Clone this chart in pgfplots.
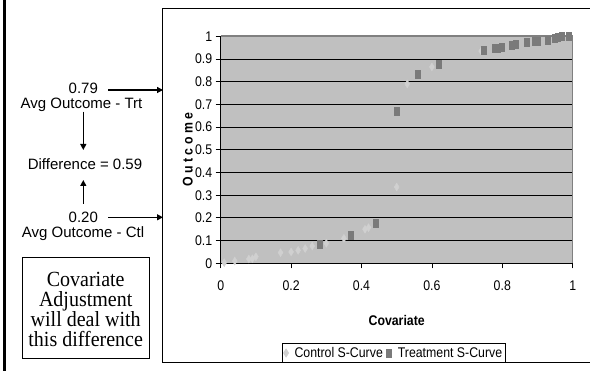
\documentclass[border=0pt]{standalone}
\usepackage{fontspec}
\usepackage{pgfplots}
\pgfplotsset{compat=1.18}
\usetikzlibrary{arrows.meta}
\setmainfont{Liberation Sans}
\newfontfamily\chartfont[FakeStretch=0.88]{Liberation Sans}
\newfontfamily\spacedbold[FakeStretch=0.88,LetterSpace=25]{Liberation Sans}
\newfontfamily\panelfont{Liberation Sans}
\newfontfamily\boxfont{Liberation Serif}
\definecolor{ctl}{HTML}{D0D0D0}
\definecolor{trt}{HTML}{7A7A7A}
\definecolor{plotbg}{HTML}{C0C0C0}
\definecolor{topline}{HTML}{808080}
\begin{document}
\begin{tikzpicture}
\useasboundingbox (0,0) rectangle (590pt,-371pt);
\fill[white] (0,0) rectangle (590pt,-371pt);
\draw[line width=2.7pt] (4.7pt,0) -- (4.7pt,-371pt);
\draw[line width=0.8pt] (162.5pt,-8.3pt) rectangle (600pt,-362.5pt);
% left panel
\tikzset{pan/.style={font=\panelfont\fontsize{15}{16}\selectfont, anchor=base, inner sep=0pt},
         arr/.style={line width=1.3pt, -{Triangle[length=6pt,width=6pt]}}}
\node[pan] at (83.3pt,-93.3pt) {0.79};
\node[pan] at (81.5pt,-108.3pt) {Avg Outcome - Trt};
\draw[arr] (108.3pt,-90pt) -- (163pt,-90pt);
\draw[arr] (83.3pt,-111.7pt) -- (83.3pt,-150pt);
\node[pan] at (85pt,-169.3pt) {Difference = 0.59};
\draw[arr] (83.3pt,-204pt) -- (83.3pt,-180pt);
\node[pan] at (83.3pt,-222.7pt) {0.20};
\draw[arr] (108.3pt,-217.3pt) -- (163pt,-217.3pt);
\node[pan] at (83pt,-237.5pt) {Avg Outcome - Ctl};
\draw[line width=0.8pt] (22.3pt,-257.3pt) rectangle (149pt,-358.3pt);
\tikzset{bx/.style={font=\boxfont\fontsize{20}{20}\selectfont, anchor=base, inner sep=0pt, yscale=1.08, transform shape}}
\node[bx] at (85.7pt,-286.5pt) {Covariate};
\node[bx] at (85.7pt,-306.3pt) {Adjustment};
\node[bx] at (85.7pt,-326.3pt) {will deal with};
\node[bx] at (85.7pt,-346.5pt) {this difference};
% chart
\begin{axis}[at={(220.7pt,-263.3pt)}, anchor=south west, scale only axis,
  width=352pt, height=227pt, xmin=0, xmax=1, ymin=0, ymax=1, clip=false,
  axis background/.style={fill=plotbg},
  axis x line*=bottom, axis y line*=left,
  axis line style={black, line width=0.8pt},
  xtick={0,0.2,0.4,0.6,0.8,1}, ytick={0,0.1,0.2,0.3,0.4,0.5,0.6,0.7,0.8,0.9,1},
  ymajorgrids, major grid style={black, line width=0.8pt},
  tick align=outside, major tick length=5pt,
  tick style={black, line width=0.8pt},
  ticklabel style={font=\chartfont\fontsize{14}{16}\selectfont},
  /pgf/number format/assume math mode=true,
  xticklabel style={yshift=-9pt},
  xlabel={Covariate}, ylabel={Outcome},
  every axis x label/.style={at={(axis description cs:0.5,0)}, anchor=center, yshift=-57pt, font=\chartfont\bfseries\fontsize{14}{16}\selectfont},
  every axis y label/.style={at={(axis description cs:0,0.5)}, anchor=center, rotate=90, yshift=33pt, font=\spacedbold\bfseries\fontsize{14}{16}\selectfont},
  legend columns=2,
  legend style={at={(0.492,-0.395)}, anchor=center, draw=black, line width=0.8pt, fill=white,
    font=\chartfont\fontsize{14}{16}\selectfont, inner sep=1.5pt,
    /tikz/column sep=2pt,
    /tikz/every odd column/.append style={column sep=4pt}},
  legend cell align=left,
]
\addplot[only marks, mark=diamond*, mark size=3.3pt, color=ctl, mark options={yscale=1.2, fill=ctl, draw=ctl}] coordinates {
(0.01,0.003) (0.04,0.01) (0.08,0.019) (0.09,0.02) (0.10,0.029) (0.17,0.047)
(0.20,0.05) (0.22,0.057) (0.24,0.065) (0.26,0.076) (0.30,0.088) (0.35,0.11)
(0.41,0.15) (0.42,0.157) (0.50,0.336) (0.53,0.79) (0.60,0.865) (0.74,0.935)
};
\addlegendentry{Control S-Curve}
\addplot[only marks, mark=square*, mark size=2.5pt, color=trt, mark options={yscale=1.6, fill=trt, draw=trt}] coordinates {
(0.28,0.084) (0.37,0.125) (0.44,0.176) (0.50,0.671) (0.56,0.833) (0.62,0.878)
(0.746,0.94) (0.777,0.947) (0.787,0.948) (0.798,0.953) (0.828,0.96) (0.839,0.966)
(0.869,0.972) (0.891,0.978) (0.901,0.978) (0.928,0.981) (0.95,0.993) (0.958,0.998)
(0.969,1.0) (0.988,1.0)
};
\addlegendentry{Treatment S-Curve}
\draw[topline, line width=1.6pt] (rel axis cs:0,1) -- (rel axis cs:1,1);
\draw[topline, line width=0.8pt] (rel axis cs:1,1) -- (rel axis cs:1,0);
\end{axis}
\end{tikzpicture}
\end{document}
